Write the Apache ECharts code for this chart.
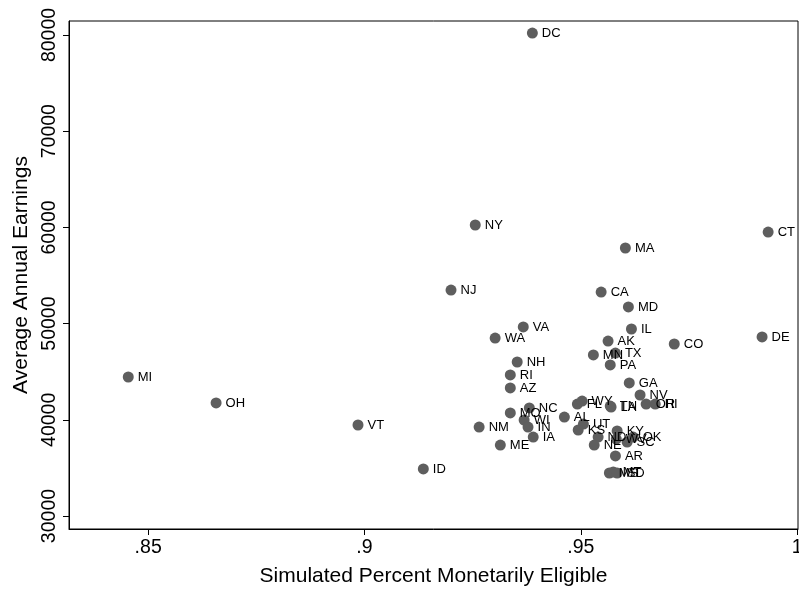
<!DOCTYPE html>
<html>
<head>
<meta charset="utf-8">
<script src="https://cdn.jsdelivr.net/npm/echarts@6/dist/echarts.min.js"></script>
<style>html,body{margin:0;padding:0;background:#fff}#c{width:799px;height:589px}</style>
</head>
<body>
<div id="c"></div>
<script>
const states = ["DC","NY","CT","NJ","MA","CA","MD","VA","IL","WA","AK","DE","CO","MN","TX","PA","NH","RI","MI","AZ","GA","OH","NV","FL","HI","WY","TN","LA","OR","MO","NC","AL","WI","VT","UT","KS","KY","IN","NM","OK","ND","WV","SC","NE","IA","AR","ME","ID","MS","MT","SD"];
const pctEligible = [0.9388,0.9256,0.9933,0.9200,0.9603,0.9547,0.9610,0.9367,0.9617,0.9302,0.9563,0.9919,0.9716,0.9529,0.9580,0.9568,0.9353,0.9337,0.8454,0.9337,0.9612,0.8657,0.9637,0.9492,0.9672,0.9503,0.9568,0.9570,0.9651,0.9337,0.9381,0.9462,0.9369,0.8985,0.9506,0.9494,0.9584,0.9378,0.9265,0.9621,0.9540,0.9582,0.9607,0.9531,0.9390,0.9580,0.9314,0.9136,0.9566,0.9575,0.9584];
const earnings = [80200,60250,59520,53490,57860,53280,51730,49650,49440,48500,48190,48610,47880,46740,46940,45700,46010,44660,44450,43310,43830,41750,42580,41640,41640,41950,41430,41330,41640,40710,41230,40290,39980,39460,39560,38940,38840,39250,39250,38210,38210,38000,37690,37380,38210,36240,37380,34890,34470,34570,34470];
const xTicks = [0.85,0.90,0.95,1.00];
const xTickLabels = [".85",".9",".95","1"];
const yTicks = [30000,40000,50000,60000,70000,80000];

const FONT = '"Liberation Sans", Arial, sans-serif';
const chart = echarts.init(document.getElementById('c'));
const pts = states.map((s,i)=>({name:s,value:[pctEligible[i],earnings[i]]}));
chart.setOption({
  animation:false,
  backgroundColor:'#fff',
  grid:{left:69,top:21,right:1,bottom:60,show:true,borderColor:'#000',borderWidth:1,outerBoundsMode:'none',containLabel:false},
  xAxis:{
    type:'value',min:0.8317,max:1.0002,
    name:'Simulated Percent Monetarily Eligible',nameLocation:'middle',nameGap:37,
    nameTextStyle:{fontFamily:FONT,fontSize:21,color:'#000'},
    axisLine:{lineStyle:{color:'#000',width:1}},
    axisTick:{show:true,length:6,lineStyle:{color:'#000'},customValues:xTicks},
    axisLabel:{fontFamily:FONT,fontSize:19.5,color:'#000',margin:9,customValues:xTicks,hideOverlap:false,
      formatter:v=>{const i=xTicks.findIndex(t=>Math.abs(t-v)<1e-6);return i>=0?xTickLabels[i]:'';}},
    splitLine:{show:false}
  },
  yAxis:{
    type:'value',min:28650,max:81455,
    name:'Average Annual Earnings',nameLocation:'middle',nameGap:33,
    nameTextStyle:{fontFamily:FONT,fontSize:21,color:'#000'},
    axisLine:{lineStyle:{color:'#000',width:1}},
    axisTick:{show:true,length:6,lineStyle:{color:'#000'},customValues:yTicks},
    axisLabel:{fontFamily:FONT,fontSize:19.5,color:'#000',margin:9,rotate:90,customValues:yTicks,
      formatter:v=>String(Math.round(v))},
    splitLine:{show:false}
  },
  series:[{
    type:'scatter',data:pts,symbolSize:11,
    itemStyle:{color:'#5e5e5e',opacity:1},
    label:{show:true,position:'right',distance:4,formatter:p=>p.name,
      fontFamily:FONT,fontSize:13,color:'#000'},
    labelLayout:{hideOverlap:false}
  }]
});
</script>
</body>
</html>
